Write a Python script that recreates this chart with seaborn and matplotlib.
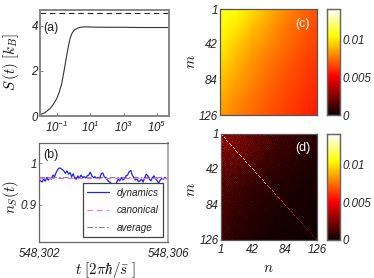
import numpy as np
import pandas as pd
import matplotlib
matplotlib.use('Agg')
import matplotlib.pyplot as plt
import seaborn as sb

# panel a
entropy_logt = [-2, -1.85, -1.7, -1.4, -1.2, -1, -0.85, -0.7, -0.55, -0.4, -0.3, -0.2, -0.1, 0, 0.1, 0.25, 0.4, 0.7, 1, 2, 3, 4, 5, 5.7]
entropy_vals = [0.07, 0.1, 0.15, 0.33, 0.52, 0.77, 1.05, 1.44, 2.05, 2.7, 3.1, 3.44, 3.65, 3.77, 3.84, 3.9, 3.94, 3.96, 3.95, 3.94, 3.94, 3.93, 3.93, 3.93]
entropy_max = 4.56

# panel b
occ_vals = [.962, .958, .955, .963, .957, .966, .96, .965, .962, .972, .968, .978, .985, .989, .988, .985, .982,
            .976, .982, .974, .978, .968, .975, .964, .962, .97, .964, .972, .966, .968, .965, .97, .972, .979,
            .97, .966, .968, .964, .966, .963, .975, .977, .968, .965, .96, .956, .954, .95, .945, .948, .955,
            .962, .958, .966, .96, .963, .97, .972, .98, .983, .972, .966, .96, .964, .956, .958, .962, .955,
            .966, .974, .97, .962, .958, .966, .97, .963, .958, .953, .96, .964, .962, .966, .963, .965]
occ_canonical = 0.964
occ_average = 0.968

# panel c, coarse reading of the matrix
rho_c = [[.0110, .0106, .0098, .0089, .0081, .0074, .0068],
         [.0106, .0100, .0091, .0084, .0077, .0071, .0066],
         [.0102, .0094, .0086, .0080, .0074, .0069, .0064],
         [.0097, .0089, .0082, .0076, .0071, .0066, .0062],
         [.0092, .0085, .0079, .0073, .0068, .0064, .0060],
         [.0088, .0081, .0076, .0070, .0066, .0062, .0058],
         [.0084, .0078, .0073, .0068, .0064, .0060, .0056]]

# panel d, off diagonal level in units of 1e-4
rho_d = [[24, 25, 23, 22, 20, 18, 17, 15, 14, 12, 11, 10, 9, 9, 8, 7, 7, 6],
         [26, 23, 24, 21, 19, 19, 15, 14, 13, 13, 10, 9, 10, 8, 7, 8, 6, 6],
         [23, 24, 22, 20, 20, 16, 16, 13, 12, 11, 10, 9, 8, 8, 7, 6, 6, 5],
         [21, 20, 21, 19, 16, 16, 13, 14, 11, 10, 9, 8, 8, 7, 6, 6, 5, 5],
         [20, 19, 17, 17, 16, 13, 14, 11, 10, 10, 8, 8, 7, 6, 6, 5, 5, 4],
         [18, 17, 17, 15, 13, 14, 11, 10, 10, 8, 8, 6, 6, 6, 5, 5, 4, 4],
         [16, 17, 14, 13, 13, 11, 10, 10, 8, 8, 7, 6, 5, 5, 5, 4, 4, 3],
         [15, 14, 14, 12, 11, 10, 10, 8, 8, 6, 6, 6, 5, 4, 4, 4, 3, 3],
         [14, 14, 12, 11, 10, 10, 8, 8, 6, 6, 5, 5, 5, 4, 4, 3, 3, 3],
         [14, 12, 11, 11, 9, 8, 8, 7, 6, 5, 5, 4, 4, 4, 3, 3, 3, 3],
         [13, 12, 10, 9, 9, 8, 7, 6, 6, 5, 4, 4, 4, 3, 3, 3, 3, 2],
         [12, 11, 10, 9, 8, 7, 7, 6, 5, 5, 4, 4, 3, 3, 3, 3, 2, 2],
         [12, 10, 9, 8, 8, 7, 6, 5, 5, 4, 4, 3, 3, 3, 3, 2, 2, 2],
         [11, 10, 8, 8, 7, 6, 6, 5, 4, 4, 4, 3, 3, 3, 2, 2, 2, 2],
         [11, 9, 8, 7, 7, 6, 5, 5, 4, 4, 3, 3, 3, 2, 2, 2, 2, 2],
         [10, 9, 8, 7, 6, 6, 5, 4, 4, 3, 3, 3, 2, 2, 2, 2, 2, 2],
         [10, 8, 7, 7, 6, 5, 5, 4, 4, 3, 3, 2, 2, 2, 2, 2, 2, 1],
         [9, 8, 7, 6, 6, 5, 4, 4, 3, 3, 3, 2, 2, 2, 2, 2, 1, 1]]
grain_a = [[1.2, 0.7, 1.4, 0.9, 0.6, 1.5, 1.0],
           [0.6, 1.5, 0.8, 1.3, 1.1, 0.7, 1.4],
           [1.4, 0.9, 1.1, 0.6, 1.5, 1.0, 0.7],
           [0.8, 1.3, 0.6, 1.5, 0.9, 1.2, 1.1],
           [1.5, 0.6, 1.2, 1.0, 0.7, 1.4, 0.8],
           [0.9, 1.1, 1.5, 0.7, 1.3, 0.6, 1.2],
           [1.1, 1.4, 0.7, 1.2, 1.0, 0.9, 0.6]]
grain_b = [[1.1, 0.8, 1.2, 0.9, 1.3, 0.7, 1.0, 1.2, 0.8],
           [0.7, 1.3, 0.9, 1.2, 0.8, 1.1, 1.3, 0.7, 1.0],
           [1.2, 1.0, 0.7, 1.1, 1.3, 0.9, 0.8, 1.2, 0.9],
           [0.9, 1.2, 1.3, 0.7, 1.0, 1.2, 0.9, 0.8, 1.3],
           [1.3, 0.7, 1.0, 1.3, 0.9, 0.8, 1.2, 1.1, 0.7],
           [0.8, 1.1, 1.2, 0.9, 0.7, 1.3, 1.0, 0.9, 1.2],
           [1.0, 1.3, 0.8, 1.0, 1.2, 0.7, 1.1, 1.3, 0.8],
           [1.2, 0.9, 1.1, 0.8, 1.3, 1.0, 0.7, 0.9, 1.1],
           [0.7, 1.1, 0.9, 1.3, 0.8, 1.2, 1.3, 1.0, 0.9]]
rho_d_diag = [.0120, .0110, .0104, .0100, .0096, .0092, .0086, .0080, .0076, .0072, .0068,
              .0063, .0058, .0054, .0050, .0046, .0042, .0038, .0034, .0030, .0026]

cbar_ticks = [0, .005, .01]
cbar_labels = ['0', '0.005', '0.01']
index_ticks = [1, 42, 84, 126]
VMAX = 0.014

W, H = 374, 278
GREY = '#868686'
TXT = '#222222'

sb.set_style('white')
plt.rcParams['font.family'] = ['Liberation Sans', 'DejaVu Sans']
plt.rcParams['mathtext.fontset'] = 'custom'
plt.rcParams['mathtext.rm'] = 'Liberation Sans:italic'
plt.rcParams['mathtext.it'] = 'Liberation Sans:italic'
plt.rcParams['mathtext.default'] = 'it'
plt.rcParams['text.color'] = TXT

fig = plt.figure(figsize=(W / 100, H / 100), dpi=100)


def box(x0, y0, x1, y1):
    return fig.add_axes([x0 / W, 1 - y1 / H, (x1 - x0) / W, (y1 - y0) / H])


def frame(ax, lw=1.3, col=GREY):
    for s in ax.spines.values():
        s.set_visible(True)
        s.set_linewidth(lw)
        s.set_color(col)
    ax.tick_params(direction='in', length=2, width=0.5, color='#555555', labelsize=8.3,
                   labelcolor=TXT, pad=1.5, left=True, bottom=True)
    for t in ax.get_xticklabels() + ax.get_yticklabels():
        t.set_fontstyle('italic')


def bigtext(x, y, s, rot=0):
    t = fig.text(x / W, 1 - y / H, s, rotation=rot, ha='center', va='center', fontsize=10.8, color='#111111')
    t.set_math_fontfamily('cm')


# PANEL A
ax1 = box(40, 9.5, 169, 116)
df_a = pd.DataFrame({'t': 10.0 ** np.array(entropy_logt), 'S': entropy_vals})
sb.lineplot(data=df_a, x='t', y='S', color='#333333', lw=0.8, ax=ax1)
ax1.axhline(entropy_max, color='#222222', lw=0.8, ls=(0, (5, 3.5)))
ax1.set_xscale('log')
ax1.set_xlim(10 ** -2, 10 ** 5.72)
ax1.set_ylim(0, 4.73)
ax1.set_xticks([1e-1, 1e1, 1e3, 1e5])
ax1.set_xticklabels(['$10^{-1}$', '$10^{1}$', '$10^{3}$', '$10^{5}$'])
ax1.minorticks_off()
ax1.set_yticks([0, 2, 4])
ax1.set_yticklabels(['0', '2', '4'])
ax1.set_xlabel('')
ax1.set_ylabel('')
frame(ax1, lw=1.4)
ax1.tick_params(axis='x', pad=3)
fig.text(51 / W, 1 - 27.5 / H, '(a)', ha='center', va='center', fontsize=9)
bigtext(11, 62, r'$S\,(t)\ [k_B]$', 90)

# PANEL B
ax2 = box(39, 143, 168, 242)
occ_x = np.linspace(548302, 548306, len(occ_vals))
df_b = pd.DataFrame({'t': occ_x, 'n': occ_vals})
sb.lineplot(data=df_b, x='t', y='n', color='#2222ee', lw=0.9, ax=ax2, label='dynamics', zorder=2)
ax2.axhline(occ_canonical, color='#ff66ee', lw=0.8, ls=(0, (5, 3.5)), label='canonical', zorder=3)
ax2.axhline(occ_average, color='#888888', lw=0.8, ls=(0, (5, 2, 1.5, 2)), label='average', zorder=1)
ax2.set_xlim(548302, 548306)
ax2.set_ylim(0.811, 1.049)
ax2.set_xticks([548302, 548306])
ax2.set_xticklabels(['548,302', '548,306'])
ax2.set_yticks([0.9, 1])
ax2.set_yticklabels(['0.9', '1'])
ax2.set_xlabel('')
ax2.set_ylabel('')
frame(ax2, lw=0.9, col='#666666')
ax2.spines['right'].set_color('#aaaaaa')
ax2.spines['right'].set_linewidth(1.4)
ax2.tick_params(axis='x', pad=4)
leg = ax2.legend(loc='lower right', bbox_to_anchor=((163 - 39) / 129, 5 / 99), bbox_transform=ax2.transAxes,
                 fontsize=7.1, frameon=True, fancybox=False, edgecolor='#444444', framealpha=1,
                 borderaxespad=0, handlelength=2.15, labelspacing=0.75, borderpad=0.45, handletextpad=0.8)
leg.get_frame().set_linewidth(0.9)
for t in leg.get_texts():
    t.set_fontstyle('italic')
fig.text(51 / W, 1 - 155 / H, '(b)', ha='center', va='center', fontsize=9)
bigtext(11, 197, r'$n_S(t)$', 90)
bigtext(105, 269.5, r'$t\ [2\pi\hbar/\bar{s}\ ]$')

# PANEL C
ax3 = box(220, 9, 317, 115)
cax3 = box(326.5, 9, 340, 115)
sb.heatmap(np.array(rho_c), cmap='hot', vmin=0, vmax=VMAX, ax=ax3, cbar_ax=cax3, shading='gouraud',
           xticklabels=False, yticklabels=False, cbar_kws={'ticks': cbar_ticks})
ax3.set_xlim(0, 6)
ax3.set_ylim(6, 0)
ax3.set_xticks([])
ax3.set_yticks([(v - 1) / 125 * 6 for v in index_ticks])
ax3.set_yticklabels(index_ticks)
frame(ax3, lw=0.9, col='#555555')
fig.text(302 / W, 1 - 24 / H, '(c)', ha='center', va='center', fontsize=9, color='white')
bigtext(191, 62, r'$m$', 90)

# PANEL D
ax4 = box(221, 134, 317, 240)
cax4 = box(326.5, 134, 340, 240)
full_d = np.kron(np.array(rho_d) * 1e-4, np.ones((7, 7)))
full_d = full_d * np.tile(grain_a, (18, 18)) * np.tile(grain_b, (14, 14))
diag = np.repeat(rho_d_diag, 6)
idx = np.arange(126)
full_d[idx, idx] = diag
sb.heatmap(full_d, cmap='hot', vmin=0, vmax=VMAX, ax=ax4, cbar_ax=cax4,
           xticklabels=False, yticklabels=False, cbar_kws={'ticks': cbar_ticks})
ax4.set_xticks([(v - 1) / 125 * 126 for v in index_ticks])
ax4.set_xticklabels(index_ticks)
ax4.set_yticks([(v - 1) / 125 * 126 for v in index_ticks])
ax4.set_yticklabels(index_ticks)
frame(ax4, lw=0.9, col='#555555')
ax4.tick_params(axis='x', pad=3)
fig.text(303 / W, 1 - 147.5 / H, '(d)', ha='center', va='center', fontsize=9, color='white')
bigtext(191, 190, r'$m$', 90)
bigtext(268, 268, r'$n$')

for cax in (cax3, cax4):
    cax.set_yticklabels(cbar_labels)
    cax.tick_params(direction='in', length=2, width=0.5, color='#555555', labelsize=8.3, pad=1.5, right=True)
    for t in cax.get_yticklabels():
        t.set_fontstyle('italic')
    for s in cax.spines.values():
        s.set_visible(True)
        s.set_linewidth(0.9)
        s.set_color('#666666')

fig.savefig('out.png', dpi=100)
